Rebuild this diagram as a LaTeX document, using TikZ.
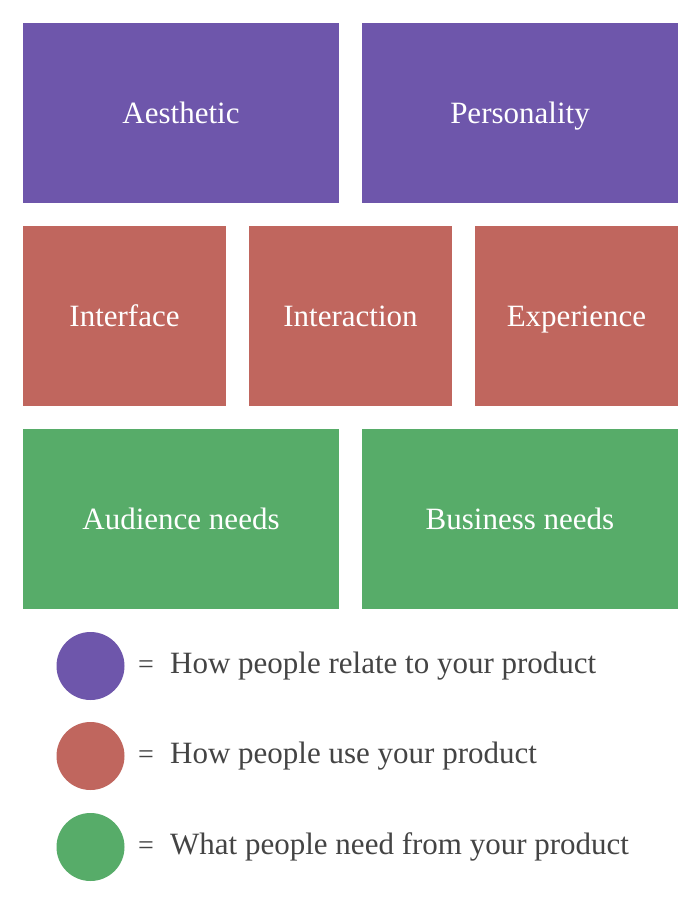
\documentclass[tikz,border=0pt]{standalone}
\usepackage{fontspec}
\setmainfont{Liberation Serif}
\definecolor{cpurple}{HTML}{6E56AB}
\definecolor{cred}{HTML}{C0665E}
\definecolor{cgreen}{HTML}{57AC69}
\definecolor{ctext}{HTML}{444444}
\begin{document}
\begin{tikzpicture}[x=1pt,y=-1pt,
  blk/.style={inner sep=0pt,outer sep=0pt,text=white,font=\fontsize{31}{36}\selectfont,minimum height=180pt,text height=20.5pt,text depth=0pt},
  wide/.style={blk,minimum width=316pt},
  narrow/.style={blk,minimum width=203pt},
  dot/.style={circle,inner sep=0pt,minimum size=68pt},
  legtxt/.style={anchor=base west,text=ctext,inner sep=0pt,font=\fontsize{31}{36}\selectfont},
  eqs/.style={anchor=base,text=ctext,inner sep=0pt,font=\fontsize{28}{32}\selectfont}]
\useasboundingbox[fill=white] (0,0) rectangle (700,903);
\node[wide,fill=cpurple] (aes) at (181,113) {Aesthetic};
\node[wide,fill=cpurple] (per) at (520,113) {Personality};
\node[narrow,fill=cred] (int) at (124.5,316) {Interface};
\node[narrow,fill=cred] (inter) at (350.5,316) {Interaction};
\node[narrow,fill=cred] (exp) at (576.5,316) {Experience};
\node[wide,fill=cgreen] (aud) at (181,519) {Audience needs};
\node[wide,fill=cgreen] (bus) at (520,519) {Business needs};
\node[dot,fill=cpurple] (d1) at (90.5,666) {};
\node[dot,fill=cred] (d2) at (90.5,756) {};
\node[dot,fill=cgreen] (d3) at (90.5,847) {};
\node[eqs] (e1) at (146,673) {=};
\node[eqs] (e2) at (146,763) {=};
\node[eqs] (e3) at (146,854) {=};
\node[legtxt] (t1) at (170,673) {How people relate to your product};
\node[legtxt] (t2) at (170,763) {How people use your product};
\node[legtxt] (t3) at (170,854) {What people need from your product};
\end{tikzpicture}
\end{document}
